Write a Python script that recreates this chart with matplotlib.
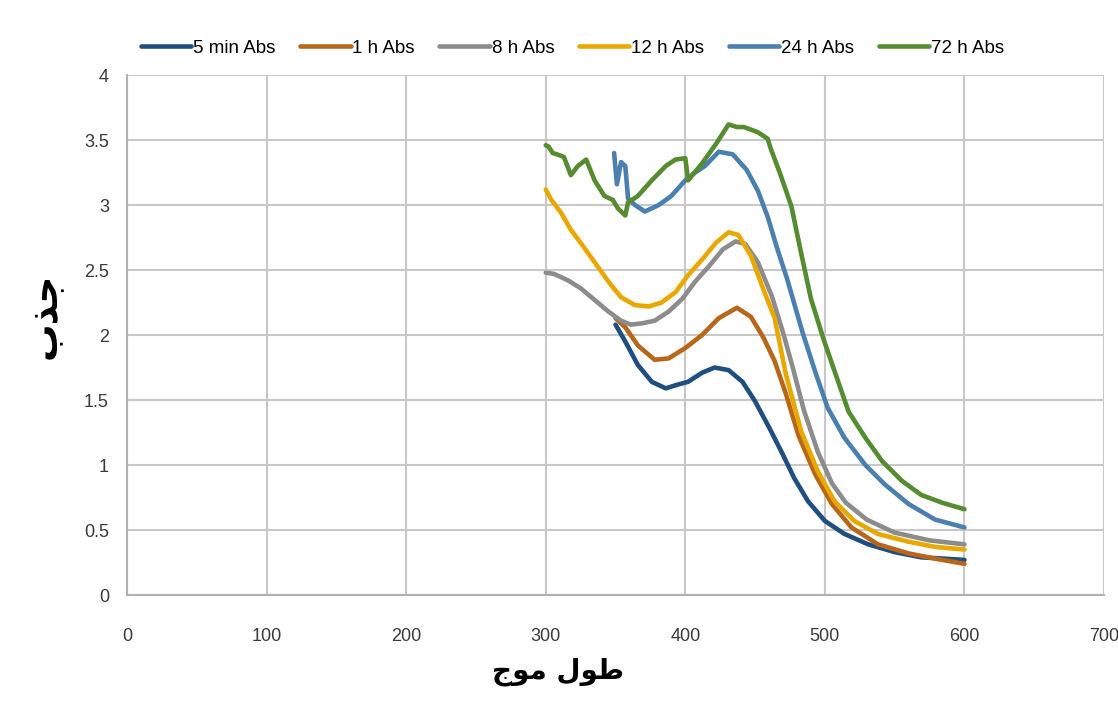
import matplotlib
matplotlib.use('Agg')
import matplotlib.pyplot as plt
from matplotlib import font_manager

# data (wavelength, absorbance)
wl_5min = [350, 357, 366, 376, 386, 395, 402, 412, 421, 431, 441, 450, 460, 469, 478, 488, 500, 514, 531, 550, 569, 585, 600]
abs_5min = [2.08, 1.95, 1.77, 1.64, 1.59, 1.62, 1.64, 1.71, 1.75, 1.73, 1.64, 1.49, 1.29, 1.10, 0.90, 0.72, 0.57, 0.47, 0.39, 0.33, 0.29, 0.28, 0.27]

wl_1h = [350, 357, 366, 378, 388, 400, 412, 424, 437, 447, 456, 464, 472, 481, 493, 505, 519, 538, 560, 579, 600]
abs_1h = [2.13, 2.06, 1.92, 1.81, 1.82, 1.90, 2.00, 2.13, 2.21, 2.14, 1.98, 1.80, 1.55, 1.23, 0.93, 0.70, 0.52, 0.39, 0.32, 0.28, 0.24]

wl_8h = [300, 306, 316, 325, 335, 345, 354, 361, 369, 378, 388, 398, 407, 417, 427, 436, 443, 452, 462, 470, 477, 485, 495, 505, 515, 530, 550, 575, 600]
abs_8h = [2.48, 2.47, 2.42, 2.36, 2.27, 2.18, 2.11, 2.08, 2.09, 2.11, 2.18, 2.28, 2.41, 2.53, 2.66, 2.72, 2.70, 2.56, 2.30, 2.02, 1.75, 1.42, 1.10, 0.86, 0.71, 0.58, 0.48, 0.42, 0.39]

wl_12h = [300, 304, 311, 318, 325, 335, 345, 354, 364, 374, 383, 393, 402, 412, 422, 431, 438, 447, 456, 464, 472, 483, 495, 507, 521, 538, 560, 579, 600]
abs_12h = [3.12, 3.04, 2.94, 2.81, 2.71, 2.56, 2.41, 2.29, 2.23, 2.22, 2.25, 2.33, 2.46, 2.58, 2.71, 2.79, 2.77, 2.61, 2.35, 2.13, 1.70, 1.26, 0.95, 0.72, 0.57, 0.47, 0.41, 0.37, 0.35]

wl_24h = [349, 351, 354, 357, 359, 364, 371, 381, 390, 400, 407, 414, 424, 434, 444, 452, 459, 466, 473, 484, 493, 502, 514, 529, 543, 560, 579, 600]
abs_24h = [3.40, 3.16, 3.33, 3.30, 3.05, 3.00, 2.95, 3.00, 3.07, 3.19, 3.25, 3.30, 3.41, 3.39, 3.27, 3.11, 2.91, 2.66, 2.43, 2.02, 1.72, 1.44, 1.21, 1.00, 0.85, 0.70, 0.58, 0.52]

wl_72h = [300, 302, 305, 308, 313, 318, 323, 329, 335, 342, 348, 352, 357, 359, 366, 376, 386, 393, 400, 402, 412, 422, 431, 437, 442, 452, 459, 461, 468, 476, 483, 490, 499, 507, 517, 529, 541, 555, 569, 584, 600]
abs_72h = [3.46, 3.45, 3.40, 3.39, 3.37, 3.23, 3.30, 3.35, 3.19, 3.07, 3.04, 2.97, 2.92, 3.02, 3.07, 3.19, 3.30, 3.35, 3.36, 3.19, 3.32, 3.47, 3.62, 3.60, 3.60, 3.56, 3.51, 3.44, 3.24, 2.99, 2.63, 2.28, 1.97, 1.72, 1.41, 1.21, 1.03, 0.88, 0.77, 0.71, 0.66]

labels = ['5 min Abs', '1 h Abs', '8 h Abs', '12 h Abs', '24 h Abs', '72 h Abs']
colors = ['#1f4e80', '#b8661a', '#8c8c8c', '#e8a800', '#4a7fb0', '#548c2f']

names = [f.name for f in font_manager.fontManager.ttflist]
main_font = 'Liberation Sans Narrow' if 'Liberation Sans Narrow' in names else 'Liberation Sans'
plt.rcParams['font.family'] = [main_font, 'DejaVu Sans']

fig = plt.figure(figsize=(11.18, 7.02), dpi=100)
ax = fig.add_axes([0.1136, 0.1524, 0.8739, 0.7407])

series = [(wl_5min, abs_5min), (wl_1h, abs_1h), (wl_8h, abs_8h),
          (wl_12h, abs_12h), (wl_24h, abs_24h), (wl_72h, abs_72h)]
for (x, y), lab, c in zip(series, labels, colors):
    ax.plot(x, y, color=c, lw=3.3, label=lab, solid_capstyle='round')

ax.set_xlim(0, 700)
ax.set_ylim(0, 4)
ax.set_xticks(range(0, 701, 100))
ax.set_yticks([0, 0.5, 1, 1.5, 2, 2.5, 3, 3.5, 4])
ax.set_yticklabels(['0', '0.5', '1', '1.5', '2', '2.5', '3', '3.5', '4'])
ax.grid(True, color='#c8c8c8', lw=1.5)
ax.set_axisbelow(True)
for s in ['top', 'right']:
    ax.spines[s].set_visible(False)
for s in ['left', 'bottom']:
    ax.spines[s].set_color('#b0b0b0')
    ax.spines[s].set_linewidth(1.5)
ax.tick_params(length=0, labelsize=13, colors='#3a3a3a')
ax.tick_params(axis='x', pad=24)
ax.tick_params(axis='y', pad=13)

# arabic labels written in visual order with presentation forms
fig.text(558 / 1118, 1 - 672 / 702, '\uFE9D\uFEEE\uFEE3 \uFEDD\uFEEE\uFEC3',
         family=['DejaVu Sans'], fontsize=20, fontweight='bold',
         ha='center', va='center')
fig.text(45 / 1118, 1 - 316 / 702, '\uFE8F\uFEAC\uFE9F',
         family=['DejaVu Sans'], fontsize=27, fontweight='bold',
         rotation=90, ha='center', va='center')

fig.legend(loc='center', bbox_to_anchor=(0.512, 1 - 48 / 702), ncol=6,
           frameon=False, fontsize=13.5, handlelength=2.7, handletextpad=0.1,
           columnspacing=1.3)

fig.savefig('out.png', dpi=100)
